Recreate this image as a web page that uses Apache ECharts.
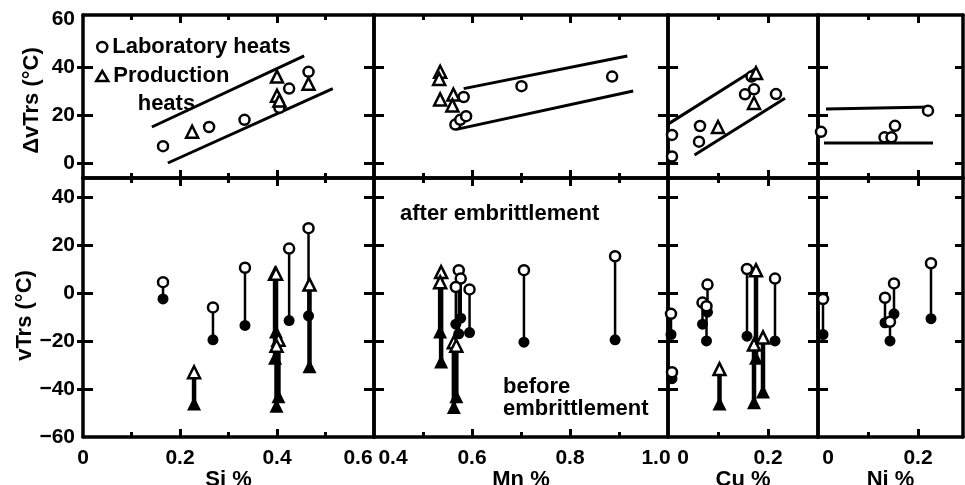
<!DOCTYPE html>
<html><head><meta charset="utf-8">
<script src="https://cdn.jsdelivr.net/npm/echarts@6/dist/echarts.min.js"></script>
<style>html,body{margin:0;padding:0;background:#fff}#c{width:965px;height:485px}</style>
</head><body><div id="c"></div>
<script>
// ---------- data ----------
// top row: ΔvTrs (°C) vs element %; bands are [start, end] points of the scatter band lines
const siLabDelta = [[0.165,7],[0.26,15],[0.333,18],[0.405,23],[0.425,31],[0.465,38]];
const siProdDelta = [[0.225,13],[0.40,36],[0.40,28],[0.405,26],[0.465,33]];
const siUpper = [[0.142,15],[0.456,44.6]];
const siLower = [[0.175,0],[0.515,31]];
const mnLabDelta = [[0.566,16],[0.576,18],[0.588,19.5],[0.583,27.5],[0.701,32],[0.886,36]];
const mnProdDelta = [[0.535,38],[0.533,35],[0.535,26.5],[0.562,28.5],[0.56,24]];
const mnUpper = [[0.583,31],[0.917,44.6]];
const mnLower = [[0.568,14],[0.929,30]];
const cuLabDelta = [[0.008,11.7],[0.008,2.7],[0.064,15.4],[0.062,8.9],[0.154,28.6],[0.167,36],[0.172,30.7],[0.216,28.7]];
const cuProdDelta = [[0.1,15],[0.176,37.5],[0.172,25]];
const cuUpper = [[0,16.2],[0.178,39.6]];
const cuLower = [[0.053,3.3],[0.234,27]];
const niLabDelta = [[0.006,13],[0.133,10.7],[0.147,10.7],[0.154,15.5],[0.22,21.8]];
const niProdDelta = [];
const niUpper = [[0.016,22.5],[0.226,23.3]];
const niLower = [[0.012,8.3],[0.23,8.3]];
// bottom row: [element %, vTrs after embrittlement, vTrs before embrittlement]
const siLabPairs = [[0.165,4.5,-2.5],[0.268,-6,-19.5],[0.334,10.5,-13.5],[0.425,18.5,-11.5],[0.465,27,-9.5]];
const siProdPairs = [[0.229,-33,-46],[0.396,8,-27],[0.398,8,-16],[0.403,-19.5,-43],[0.399,-22,-47],[0.467,3.5,-30.5]];
const mnLabPairs = [[0.573,9.5,-17],[0.577,6,-10.5],[0.567,2.5,-13],[0.595,1.5,-16.5],[0.706,9.5,-20.5],[0.892,15.3,-19.5]];
const mnProdPairs = [[0.537,8.7,-28.5],[0.535,4.5,-16],[0.563,-20.5,-47.5],[0.568,-22,-43]];
const cuLabPairs = [[0.006,-8.7,-17.3],[0.008,-33,-35.7],[0.069,-4,-13],[0.079,3.5,-8],[0.077,-5.5,-20],[0.158,10,-18],[0.214,6,-20]];
const cuProdPairs = [[0.103,-31.7,-46],[0.176,9.5,-27],[0.172,-21.5,-45.5],[0.19,-18.5,-41]];
const niLabPairs = [[0.01,-2.5,-17.3],[0.134,-2,-12.4],[0.152,4,-8.7],[0.144,-12,-20],[0.226,12.4,-10.7]];
const niProdPairs = [];
// tick labels
const siTicks = [0,0.2,0.4,0.6];
const mnTicks = [0.4,0.6,0.8,1.0];
const cuTicks = [0,0.2];
const niTicks = [0,0.2];
const deltaTicks = [0,20,40,60];
const vtrsTicks = [-60,-40,-20,0,20,40];

// ---------- layout / style ----------
const FONT = '"Liberation Sans", Arial, sans-serif';
const K = '#000';
const cols = [
  {name:'Si %', min:0, max:0.6, left:83, width:291, major:[0.2,0.4], minor:[0.1,0.3,0.5], labels:siTicks, shift:{'0.6':-16},
   lab:siLabDelta, prod:siProdDelta, up:siUpper, lo:siLower, labP:siLabPairs, prodP:siProdPairs},
  {name:'Mn %', min:0.4, max:1.0, left:374, width:294, major:[0.6,0.8], minor:[0.5,0.7,0.9], labels:mnTicks, shift:{'0.4':19,'1.0':-12},
   lab:mnLabDelta, prod:mnProdDelta, up:mnUpper, lo:mnLower, labP:mnLabPairs, prodP:mnProdPairs},
  {name:'Cu %', min:0, max:0.3, left:668, width:150, major:[0.2], minor:[0.1], labels:cuTicks, shift:{'0':15},
   lab:cuLabDelta, prod:cuProdDelta, up:cuUpper, lo:cuLower, labP:cuLabPairs, prodP:cuProdPairs},
  {name:'Ni %', min:0, max:0.29, left:818, width:145, major:[0.2], minor:[0.1], labels:niTicks, shift:{'0':10},
   lab:niLabDelta, prod:niProdDelta, up:niUpper, lo:niLower, labP:niLabPairs, prodP:niProdPairs}
];
const rows = [
  {top:15, height:163, min:-6.25, max:61.67, ticks:[0,20,40], labels:deltaTicks, name:'ΔvTrs (°C)', namePad:[0,8,0,0]},
  {top:178, height:259, min:-60, max:47.9, ticks:[-40,-20,0,20,40], labels:vtrsTicks, name:'vTrs (°C)', namePad:[0,16,0,0]}
];
const lineStyle = {color:K, width:3.5};
const tickStyle = {color:K, width:3};
const labelFont = {fontSize:21, fontWeight:'bold', fontFamily:FONT, color:K};
function fmtX(v){ return v===0 ? '0' : v.toFixed(1); }
function fmtY(v){ return v<0 ? '\u2212'+(-v) : String(v); }

const grids=[], xAxes=[], yAxes=[], series=[];
const openC = {color:'#fff', borderColor:K, borderWidth:2.5, opacity:1};
const fillC = {color:K, opacity:1};
rows.forEach((row, r) => cols.forEach((col, c) => {
  const g = grids.length;
  grids.push({left:col.left, top:row.top, width:col.width, height:row.height, containLabel:false, outerBoundsMode:'none'});
  const xb = {gridIndex:g, type:'value', min:col.min, max:col.max, splitLine:{show:false}, axisLabel:{show:false}, axisLine:{show:false, onZero:false}, axisTick:{show:false}};
  const rich = {};
  Object.keys(col.shift).forEach(k => {
    const s = col.shift[k];
    rich['s'+Math.abs(s)+(s>0?'r':'l')] = Object.assign({padding: s>0 ? [0,0,0,2*s] : [0,-2*s,0,0]}, labelFont);
  });
  const xi = xAxes.length;
  xAxes.push(Object.assign({}, xb, {position:'bottom', axisLine:{show:true, onZero:false, lineStyle},
    axisTick:{show:true, inside:true, length:8, lineStyle:tickStyle, customValues:col.major},
    axisLabel: r===1 ? Object.assign({show:true, margin:11, customValues:col.labels, rich,
      formatter: v => { const t = fmtX(v); const s = col.shift[t]; return s ? '{s'+Math.abs(s)+(s>0?'r':'l')+'|'+t+'}' : t; }}, labelFont) : {show:false},
    name: r===1 ? col.name : '', nameLocation:'middle', nameGap:32, nameMoveOverlap:false,
    nameTextStyle:{fontSize:22, fontWeight:'bold', fontFamily:FONT, color:K}}));
  xAxes.push(Object.assign({}, xb, {position:'bottom', axisTick:{show:true, inside:true, length:5, lineStyle:tickStyle, customValues:col.minor}}));
  xAxes.push(Object.assign({}, xb, {position:'top', axisLine:{show:true, onZero:false, lineStyle},
    axisTick:{show:true, inside:true, length:8, lineStyle:tickStyle, customValues:col.major}}));
  xAxes.push(Object.assign({}, xb, {position:'top', axisTick:{show:true, inside:true, length:5, lineStyle:tickStyle, customValues:col.minor}}));
  const yb = {gridIndex:g, type:'value', min:row.min, max:row.max, splitLine:{show:false}, axisLabel:{show:false}, axisLine:{show:false, onZero:false}, axisTick:{show:false}};
  const yi = yAxes.length;
  yAxes.push(Object.assign({}, yb, {position:'left', axisLine:{show:true, onZero:false, lineStyle},
    axisTick:{show:true, inside:true, length:10, lineStyle:tickStyle, customValues:row.ticks},
    axisLabel: c===0 ? Object.assign({show:true, margin:8, customValues:row.labels, formatter:fmtY}, labelFont) : {show:false},
    name: c===0 ? row.name : '', nameLocation:'middle', nameGap:40,
    nameTextStyle:{fontSize:22, fontWeight:'bold', fontFamily:FONT, color:K, padding:row.namePad}}));
  yAxes.push(Object.assign({}, yb, {position:'right', axisLine:{show:true, onZero:false, lineStyle},
    axisTick:{show:true, inside:true, length: c===3 ? 8 : 10, lineStyle:tickStyle, customValues:row.ticks}}));
  if (c===0) yAxes.push(Object.assign({}, yb, {position:'left', axisTick:{show:true, inside:false, length:6, lineStyle:tickStyle, customValues:row.ticks}}));
  const ax = {xAxisIndex:xi, yAxisIndex:yi, silent:true, animation:false};
  if (r===0) {
    [col.up, col.lo].forEach((d,i) => series.push(Object.assign({type:'line', name:'band'+c+i, data:d, symbol:'none', lineStyle:{color:K, width:3}, z:2}, ax)));
    series.push(Object.assign({type:'scatter', name:'Laboratory heats', data:col.lab, symbol:'circle', symbolSize:10, itemStyle:openC, z:4}, ax));
    if (col.prod.length) series.push(Object.assign({type:'scatter', name:'Production heats', data:col.prod, symbol:'triangle', symbolSize:12, itemStyle:openC, z:4}, ax));
  } else {
    const stem = (w) => (params, api) => {
      const p1 = api.coord([api.value(0), api.value(1)]);
      const p2 = api.coord([api.value(0), api.value(2)]);
      return {type:'line', shape:{x1:p1[0], y1:p1[1], x2:p2[0], y2:p2[1]}, style:{stroke:K, lineWidth:w}};
    };
    [[col.labP, 2.5, 'circle', 10, 11], [col.prodP, 4.5, 'triangle', 12, 14]].forEach(([pairs, w, sym, sOpen, sFill]) => {
      if (!pairs.length) return;
      series.push(Object.assign({type:'custom', name:'stem'+sym+c, data:pairs, encode:{x:0, y:[1,2]}, renderItem:stem(w), z:2}, ax));
      series.push(Object.assign({type:'scatter', name:'before'+sym+c, data:pairs.map(p=>[p[0],p[2]]), symbol:sym, symbolSize:sFill, itemStyle:fillC, z:3}, ax));
      series.push(Object.assign({type:'scatter', name:'after'+sym+c, data:pairs.map(p=>[p[0],p[1]]), symbol:sym, symbolSize:sOpen, itemStyle:openC, z:4}, ax));
    });
  }
}));

const legendText = {fontSize:22, fontWeight:'bold', fontFamily:FONT, color:K, lineHeight:28};
const option = {
  animation:false,
  backgroundColor:'#fff',
  grid: grids, xAxis: xAxes, yAxis: yAxes, series,
  legend: [
    {left:96, top:33, padding:0, itemWidth:10, itemHeight:10, selectedMode:false, data:[{name:'Laboratory heats', icon:'circle'}],
     itemStyle:openC, textStyle:legendText},
    {left:95, top:62, padding:0, itemWidth:12, itemHeight:38, selectedMode:false,
     data:[{name:'Production heats', icon:'path://M6,0L12,10L0,10ZM0,38'}],
     formatter: () => 'Production\n    heats', itemStyle:openC, textStyle:legendText}
  ],
  graphic: [
    {type:'text', left:400, top:203, silent:true, style:{text:'after embrittlement', font:'bold 22px '+FONT, fill:K}},
    {type:'text', left:503, top:376, silent:true, style:{text:'before\nembrittlement', font:'bold 22px '+FONT, fill:K, lineHeight:22}}
  ]
};
const chart = echarts.init(document.getElementById('c'), null, {renderer:'canvas'});
chart.setOption(option);
</script>
</body></html>
